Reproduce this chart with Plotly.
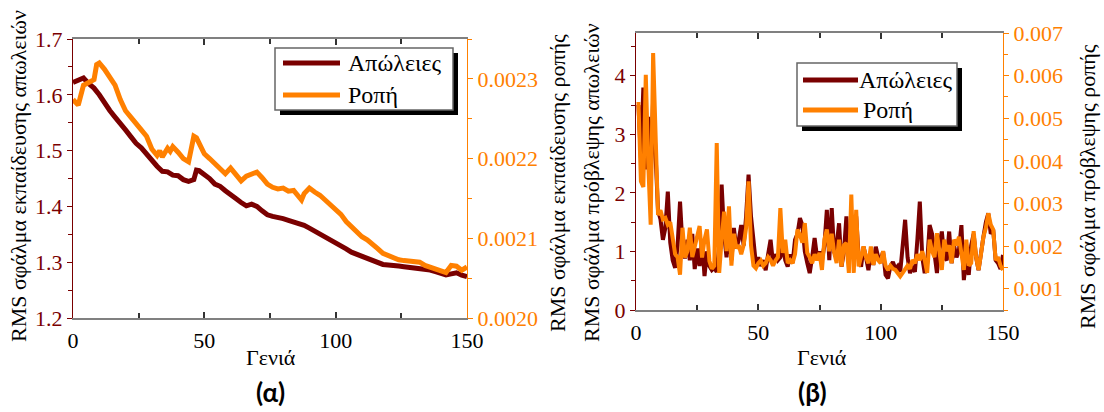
import plotly.graph_objects as go

# ---------------- Panel (α): training error ----------------
gen_loss_a = [0, 2, 4, 6, 8, 10, 12, 14, 16, 18, 20, 22, 24, 26, 28, 30, 32, 34, 36, 38, 40, 42, 44, 46, 47, 48,
              50, 52, 54, 56, 58, 60, 62, 64, 66, 68, 70, 72, 74, 76, 78, 80, 82, 84, 86, 88, 90, 92, 94, 96, 98,
              100, 102, 104, 106, 108, 110, 112, 114, 116, 118, 120, 122, 124, 126, 128, 130, 132, 134, 136, 138,
              140, 142, 144, 146, 148, 150]
loss_a = [1.622, 1.626, 1.630, 1.620, 1.612, 1.600, 1.585, 1.572, 1.560, 1.547, 1.537, 1.525, 1.513, 1.505, 1.493,
          1.482, 1.472, 1.463, 1.462, 1.456, 1.455, 1.448, 1.445, 1.448, 1.465, 1.464, 1.458, 1.450, 1.440, 1.436,
          1.428, 1.420, 1.414, 1.407, 1.401, 1.404, 1.400, 1.392, 1.385, 1.382, 1.381, 1.378, 1.375, 1.372, 1.371,
          1.366, 1.361, 1.356, 1.350, 1.344, 1.340, 1.336, 1.330, 1.324, 1.318, 1.314, 1.310, 1.307, 1.303, 1.298,
          1.296, 1.295, 1.293, 1.293, 1.292, 1.291, 1.290, 1.289, 1.288, 1.286, 1.283, 1.280, 1.277, 1.279, 1.281,
          1.277, 1.274]

gen_torque_a = [0, 2, 4, 6, 8, 9, 10, 12, 14, 16, 18, 20, 22, 24, 26, 28, 30, 32, 33, 34, 36, 37, 38, 40, 42, 44,
                45, 46, 47, 48, 50, 52, 54, 56, 58, 60, 62, 64, 66, 68, 70, 72, 74, 76, 78, 80, 82, 84, 86, 87, 88,
                90, 92, 94, 96, 98, 100, 102, 104, 106, 108, 110, 112, 114, 116, 118, 120, 122, 124, 126, 128, 130,
                132, 134, 136, 138, 140, 142, 144, 146, 148, 150]
torque_a = [0.002274, 0.002267, 0.002292, 0.002296, 0.002299, 0.002318, 0.002320, 0.002312, 0.002302, 0.002292,
            0.002274, 0.002260, 0.002252, 0.002245, 0.002236, 0.002228, 0.002212, 0.002204, 0.002210, 0.002202,
            0.002213, 0.002209, 0.002215, 0.002208, 0.002200, 0.002196, 0.002215, 0.002228, 0.002226, 0.002220,
            0.002206, 0.002200, 0.002193, 0.002187, 0.002181, 0.002188, 0.002180, 0.002172, 0.002178, 0.002181,
            0.002183, 0.002176, 0.002168, 0.002164, 0.002162, 0.002163, 0.002159, 0.002160, 0.002152, 0.002148,
            0.002156, 0.002163, 0.002158, 0.002154, 0.002148, 0.002142, 0.002135, 0.002130, 0.002121, 0.002114,
            0.002108, 0.002102, 0.002098, 0.002093, 0.002087, 0.002081, 0.002078, 0.002075, 0.002073, 0.002072,
            0.002071, 0.002071, 0.002070, 0.002066, 0.002064, 0.002062, 0.002060, 0.002057, 0.002066, 0.002065,
            0.002060, 0.002064]

# ---------------- Panel (β): prediction error ----------------
gen_b = list(range(1, 151))
loss_b = [3.5, 2.6, 3.8, 2.4, 3.3, 2.2, 3.6, 2.5, 1.7, 1.55,
          1.2, 1.4, 2.02, 1.15, 0.85, 0.72, 1.1, 1.85, 1.1, 0.88,
          1.2, 0.85, 1.3, 0.7, 1.05, 0.75, 1.2, 0.58, 1.0, 0.75,
          0.68, 0.72, 0.65, 1.1, 2.14, 1.3, 0.9, 1.4, 0.85, 1.4,
          1.05, 1.2, 1.45, 1.1, 1.6, 2.31, 1.6, 1.2, 0.78, 0.9,
          0.75, 0.85, 0.68, 0.95, 1.2, 0.8, 0.95, 0.85, 0.9, 1.1,
          0.85, 0.74, 0.95, 0.8, 1.2, 1.3, 1.57, 1.45, 1.0, 0.8,
          0.63, 0.9, 1.23, 0.9, 1.0, 0.85, 1.1, 1.71, 0.85, 1.74,
          0.97, 1.1, 1.48, 0.74, 1.0, 1.6, 0.8, 1.5, 1.0, 1.6,
          0.9, 0.74, 1.08, 0.9, 0.68, 1.0, 0.77, 1.08, 0.9, 0.85,
          1.0, 0.6, 0.54, 0.75, 0.82, 0.7, 0.75, 0.65, 1.2, 1.54,
          0.9, 0.63, 0.75, 0.65, 1.2, 1.85, 0.9, 0.63, 0.8, 1.45,
          1.3, 0.9, 0.63, 1.1, 1.34, 0.9, 0.85, 1.34, 0.8, 1.1,
          0.9, 1.02, 1.45, 0.51, 0.9, 0.6, 1.1, 1.3, 0.9, 0.68,
          1.0, 1.25, 1.5, 1.65, 1.3, 1.37, 0.85, 0.8, 0.7, 0.94]
torque_b = [0.00538, 0.00352, 0.00339, 0.00602, 0.00394, 0.00250, 0.00653, 0.00462, 0.00273, 0.00284,
            0.00263, 0.00266, 0.00250, 0.00256, 0.00219, 0.00181, 0.00174, 0.00133, 0.00243, 0.00173,
            0.00188, 0.00243, 0.00174, 0.00202, 0.00222, 0.00247, 0.00173, 0.00215, 0.00239, 0.00165,
            0.00147, 0.00154, 0.00442, 0.00137, 0.00215, 0.00281, 0.00188, 0.00293, 0.00154, 0.00229,
            0.00195, 0.00202, 0.00181, 0.00202, 0.00243, 0.00352, 0.00202, 0.00154, 0.00148, 0.00160,
            0.00166, 0.00154, 0.00160, 0.00174, 0.00167, 0.00154, 0.00166, 0.00174, 0.00289, 0.00184,
            0.00215, 0.00160, 0.00167, 0.00160, 0.00181, 0.00239, 0.00226, 0.00208, 0.00254, 0.00184,
            0.00174, 0.00160, 0.00181, 0.00167, 0.00184, 0.00144, 0.00215, 0.00239, 0.00188, 0.00229,
            0.00184, 0.00160, 0.00215, 0.00152, 0.00202, 0.00207, 0.00137, 0.00321, 0.00137, 0.00285,
            0.00152, 0.00181, 0.00199, 0.00174, 0.00160, 0.00199, 0.00156, 0.00181, 0.00167, 0.00160,
            0.00188, 0.00154, 0.00144, 0.00154, 0.00147, 0.00144, 0.00137, 0.00129, 0.00137, 0.00147,
            0.00154, 0.00147, 0.00167, 0.00160, 0.00181, 0.00167, 0.00188, 0.00167, 0.00137, 0.00215,
            0.00188, 0.00174, 0.00230, 0.00188, 0.00144, 0.00215, 0.00188, 0.00202, 0.00160, 0.00215,
            0.00202, 0.00222, 0.00174, 0.00144, 0.00215, 0.00154, 0.00160, 0.00235, 0.00174, 0.00144,
            0.00181, 0.00222, 0.00243, 0.00277, 0.00250, 0.00239, 0.00167, 0.00174, 0.00154, 0.00144]

series_names = ["Απώλειες", "Ροπή"]
x_title = "Γενιά"
y_titles = ["RMS σφάλμα εκπαίδευσης απωλειών", "RMS σφάλμα εκπαίδευσης ροπής",
            "RMS σφάλμα πρόβλεψης απωλειών", "RMS σφάλμα πρόβλεψης ροπής"]
panel_labels = ["(α)", "(β)"]

DARK = "#7a0000"
ORANGE = "#ff8000"
SERIF = "Liberation Serif, Times New Roman, Times, serif"
W, H = 1104, 412

def px(x):
    return x / W

def py(y):
    return 1 - y / H

fig = go.Figure()
fig.add_trace(go.Scatter(x=gen_loss_a, y=loss_a, name=series_names[0], mode="lines",
                         line=dict(color=DARK, width=5), xaxis="x", yaxis="y"))
fig.add_trace(go.Scatter(x=gen_torque_a, y=torque_a, name=series_names[1], mode="lines",
                         line=dict(color=ORANGE, width=5), xaxis="x", yaxis="y2"))
fig.add_trace(go.Scatter(x=gen_b, y=loss_b, name=series_names[0], mode="lines",
                         line=dict(color=DARK, width=4), xaxis="x2", yaxis="y3"))
fig.add_trace(go.Scatter(x=gen_b, y=torque_b, name=series_names[1], mode="lines",
                         line=dict(color=ORANGE, width=4), xaxis="x2", yaxis="y4"))

tickfont_black = dict(family=SERIF, size=22, color="black")
tickfont_dark = dict(family=SERIF, size=22, color=DARK)
tickfont_orange = dict(family=SERIF, size=22, color=ORANGE)

def xaxis_cfg(domain, anchor):
    return dict(domain=domain, anchor=anchor, range=[0, 150], dtick=50, tick0=0, automargin=False,
                showline=True, linecolor="#808080", linewidth=2, mirror="ticks",
                ticks="inside", ticklen=6, tickcolor="#333333", tickwidth=1.5,
                minor=dict(dtick=25, ticks="inside", ticklen=5, tickcolor="#333333"),
                showgrid=False, zeroline=False, tickfont=tickfont_black, ticklabelstandoff=2)

def yaxis_cfg(domain, anchor, rng, dtick, tick0, minor, font, color, side="left", overlaying=None, fmt=None):
    d = dict(anchor=anchor, range=rng, dtick=dtick, tick0=tick0, side=side, automargin=False,
             showline=True, linecolor=color, linewidth=1.3,
             ticks="outside", ticklen=5, tickcolor=color, tickwidth=1.3,
             minor=dict(dtick=minor, ticks="outside", ticklen=4, tickcolor=color),
             showgrid=False, zeroline=False, tickfont=font)
    if overlaying:
        d["overlaying"] = overlaying
    else:
        d["domain"] = domain
    if fmt:
        d["tickformat"] = fmt
    return d

dom_ax = [px(73), px(467)]
dom_ay = [py(318), py(39)]
dom_bx = [px(636), px(1003)]
dom_by = [py(310), py(33)]

annotations = [
    dict(text=y_titles[0], x=px(18), y=py(176), textangle=-90),
    dict(text=y_titles[1], x=px(557), y=py(183), textangle=-90),
    dict(text=y_titles[2], x=px(591), y=py(183), textangle=-90),
    dict(text=y_titles[3], x=px(1087), y=py(187), textangle=-90),
    dict(text=x_title, x=px(271), y=py(357), textangle=0),
    dict(text=x_title, x=px(822), y=py(357), textangle=0),
]
anns = []
for a in annotations:
    anns.append(dict(text=a["text"], x=a["x"], y=a["y"], xref="paper", yref="paper",
                     textangle=a["textangle"], showarrow=False, xanchor="center", yanchor="middle",
                     font=dict(family=SERIF, size=22, color="black")))
for lbl, xc in zip(panel_labels, [270, 812]):
    anns.append(dict(text="<b>" + lbl + "</b>", x=px(xc), y=py(392), xref="paper", yref="paper",
                     showarrow=False, xanchor="center", yanchor="middle",
                     font=dict(family="Lato", size=26, color="black")))

# ---- legends (box with drop shadow, line samples, labels) ----
legend_specs = [
    dict(box=(275, 48, 453, 110), lx=(283, 340), rows=(63, 95), tx=(346, 346)),
    dict(box=(797, 63, 957, 126), lx=(803, 858), rows=(80, 110), tx=(857, 861)),
]
shapes = []
for spec in legend_specs:
    x0, y0, x1, y1 = spec["box"]
    shapes.append(dict(type="rect", xref="paper", yref="paper", x0=px(x0 + 5), x1=px(x1 + 5),
                       y0=py(y1 + 5), y1=py(y0 + 5), fillcolor="black", line=dict(width=0), layer="above"))
    shapes.append(dict(type="rect", xref="paper", yref="paper", x0=px(x0), x1=px(x1),
                       y0=py(y1), y1=py(y0), fillcolor="white", line=dict(color="#666666", width=1.5),
                       layer="above"))
    for name, color, ry, tx in zip(series_names, [DARK, ORANGE], spec["rows"], spec["tx"]):
        shapes.append(dict(type="line", xref="paper", yref="paper", x0=px(spec["lx"][0]), x1=px(spec["lx"][1]),
                           y0=py(ry), y1=py(ry), line=dict(color=color, width=5), layer="above"))
        anns.append(dict(text=name, x=px(tx), y=py(ry), xref="paper", yref="paper", showarrow=False,
                         xanchor="left", yanchor="middle", font=dict(family=SERIF, size=24, color="black")))

fig.update_layout(
    width=W, height=H, margin=dict(l=0, r=0, t=0, b=0),
    paper_bgcolor="white", plot_bgcolor="white",
    xaxis=xaxis_cfg(dom_ax, "y"),
    yaxis=yaxis_cfg(dom_ay, "x", [1.2, 1.7], 0.1, 1.2, 0.05, tickfont_dark, DARK),
    yaxis2=yaxis_cfg(None, "x", [0.0020, 0.00235], 0.0001, 0.0020, 0.00005, tickfont_orange, ORANGE,
                     side="right", overlaying="y", fmt=".4f"),
    xaxis2=xaxis_cfg(dom_bx, "y3"),
    yaxis3=yaxis_cfg(dom_by, "x2", [0, 4.73], 1, 0, 0.5, tickfont_dark, DARK),
    yaxis4=yaxis_cfg(None, "x2", [0.0005, 0.007], 0.001, 0.001, 0.0005, tickfont_orange, ORANGE,
                     side="right", overlaying="y3", fmt=".3f"),
    annotations=anns,
    shapes=shapes,
    showlegend=False,
)

fig.write_html("out.html")
